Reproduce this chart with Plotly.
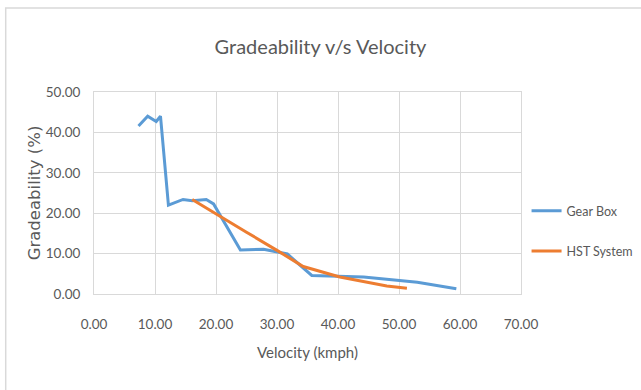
import plotly.graph_objects as go

gear_x = [7.3, 8.8, 10.2, 10.9, 12.2, 14.6, 16.1, 18.4, 19.6, 24.0, 27.8, 31.7, 35.7, 44.2, 53.0, 59.4]
gear_y = [41.6, 44.0, 42.7, 44.0, 22.0, 23.4, 23.1, 23.4, 22.3, 10.9, 11.1, 9.9, 4.6, 4.2, 2.9, 1.3]

hst_x = [16.1, 20.0, 25.0, 30.0, 34.3, 40.3, 48.0, 51.3]
hst_y = [23.4, 19.8, 15.3, 10.8, 6.8, 4.2, 2.0, 1.4]

x_ticks = [0, 10, 20, 30, 40, 50, 60, 70]
y_ticks = [0, 10, 20, 30, 40, 50]

txt = "#595959"
grid = "#d9d9d9"
font_main = "Lato, Carlito, Calibri, sans-serif"

fig = go.Figure()
fig.add_trace(go.Scatter(x=gear_x, y=gear_y, mode="lines", name="Gear Box",
                         line=dict(color="#5b9bd5", width=3), legendgroup="g1"))
fig.add_trace(go.Scatter(x=hst_x, y=hst_y, mode="lines", name="HST System",
                         line=dict(color="#ed7d31", width=3), legendgroup="g2"))

fig.update_layout(
    width=641, height=390,
    margin=dict(l=93.5, r=119.5, t=92, b=96, autoexpand=False),
    paper_bgcolor="white", plot_bgcolor="white",
    title=dict(text="Gradeability v/s Velocity", x=0.5, xanchor="center",
               y=1 - 47/390, yanchor="middle",
               font=dict(family=font_main, size=20, color=txt)),
    legend=dict(x=1.013, xanchor="left", y=(294 - 231) / 202, yanchor="middle",
                traceorder="grouped", tracegroupgap=21,
                font=dict(family=font_main, size=12.5, color=txt),
                bgcolor="rgba(0,0,0,0)"),
    xaxis=dict(range=[0, 70], tickvals=x_ticks, tickformat=".2f",
               showgrid=True, gridcolor=grid, gridwidth=1,
               showline=True, linecolor=grid, mirror=True, zeroline=False,
               ticks="", ticklabelstandoff=18,
               tickfont=dict(family=font_main, size=13.5, color=txt),
               title=dict(text="Velocity (kmph)", standoff=16,
                          font=dict(family=font_main, size=15, color=txt))),
    yaxis=dict(range=[0, 50], tickvals=y_ticks, tickformat=".2f",
               showgrid=True, gridcolor=grid, gridwidth=1,
               showline=True, linecolor=grid, mirror=True, zeroline=False,
               ticks="", ticklabelstandoff=10,
               tickfont=dict(family=font_main, size=13.5, color=txt),
               title=dict(text="Gradeability (%)", standoff=1,
                          font=dict(family="DejaVu Sans, sans-serif", size=16.5, color=txt))),
)

fig.add_shape(type="rect", xref="paper", yref="paper",
              x0=(5 - 93.5) / 428, x1=2, y0=-2, y1=(294 - 8) / 202,
              line=dict(color="#d9d9d9", width=1.5), fillcolor="rgba(0,0,0,0)", layer="below")

fig.write_html("out.html")
